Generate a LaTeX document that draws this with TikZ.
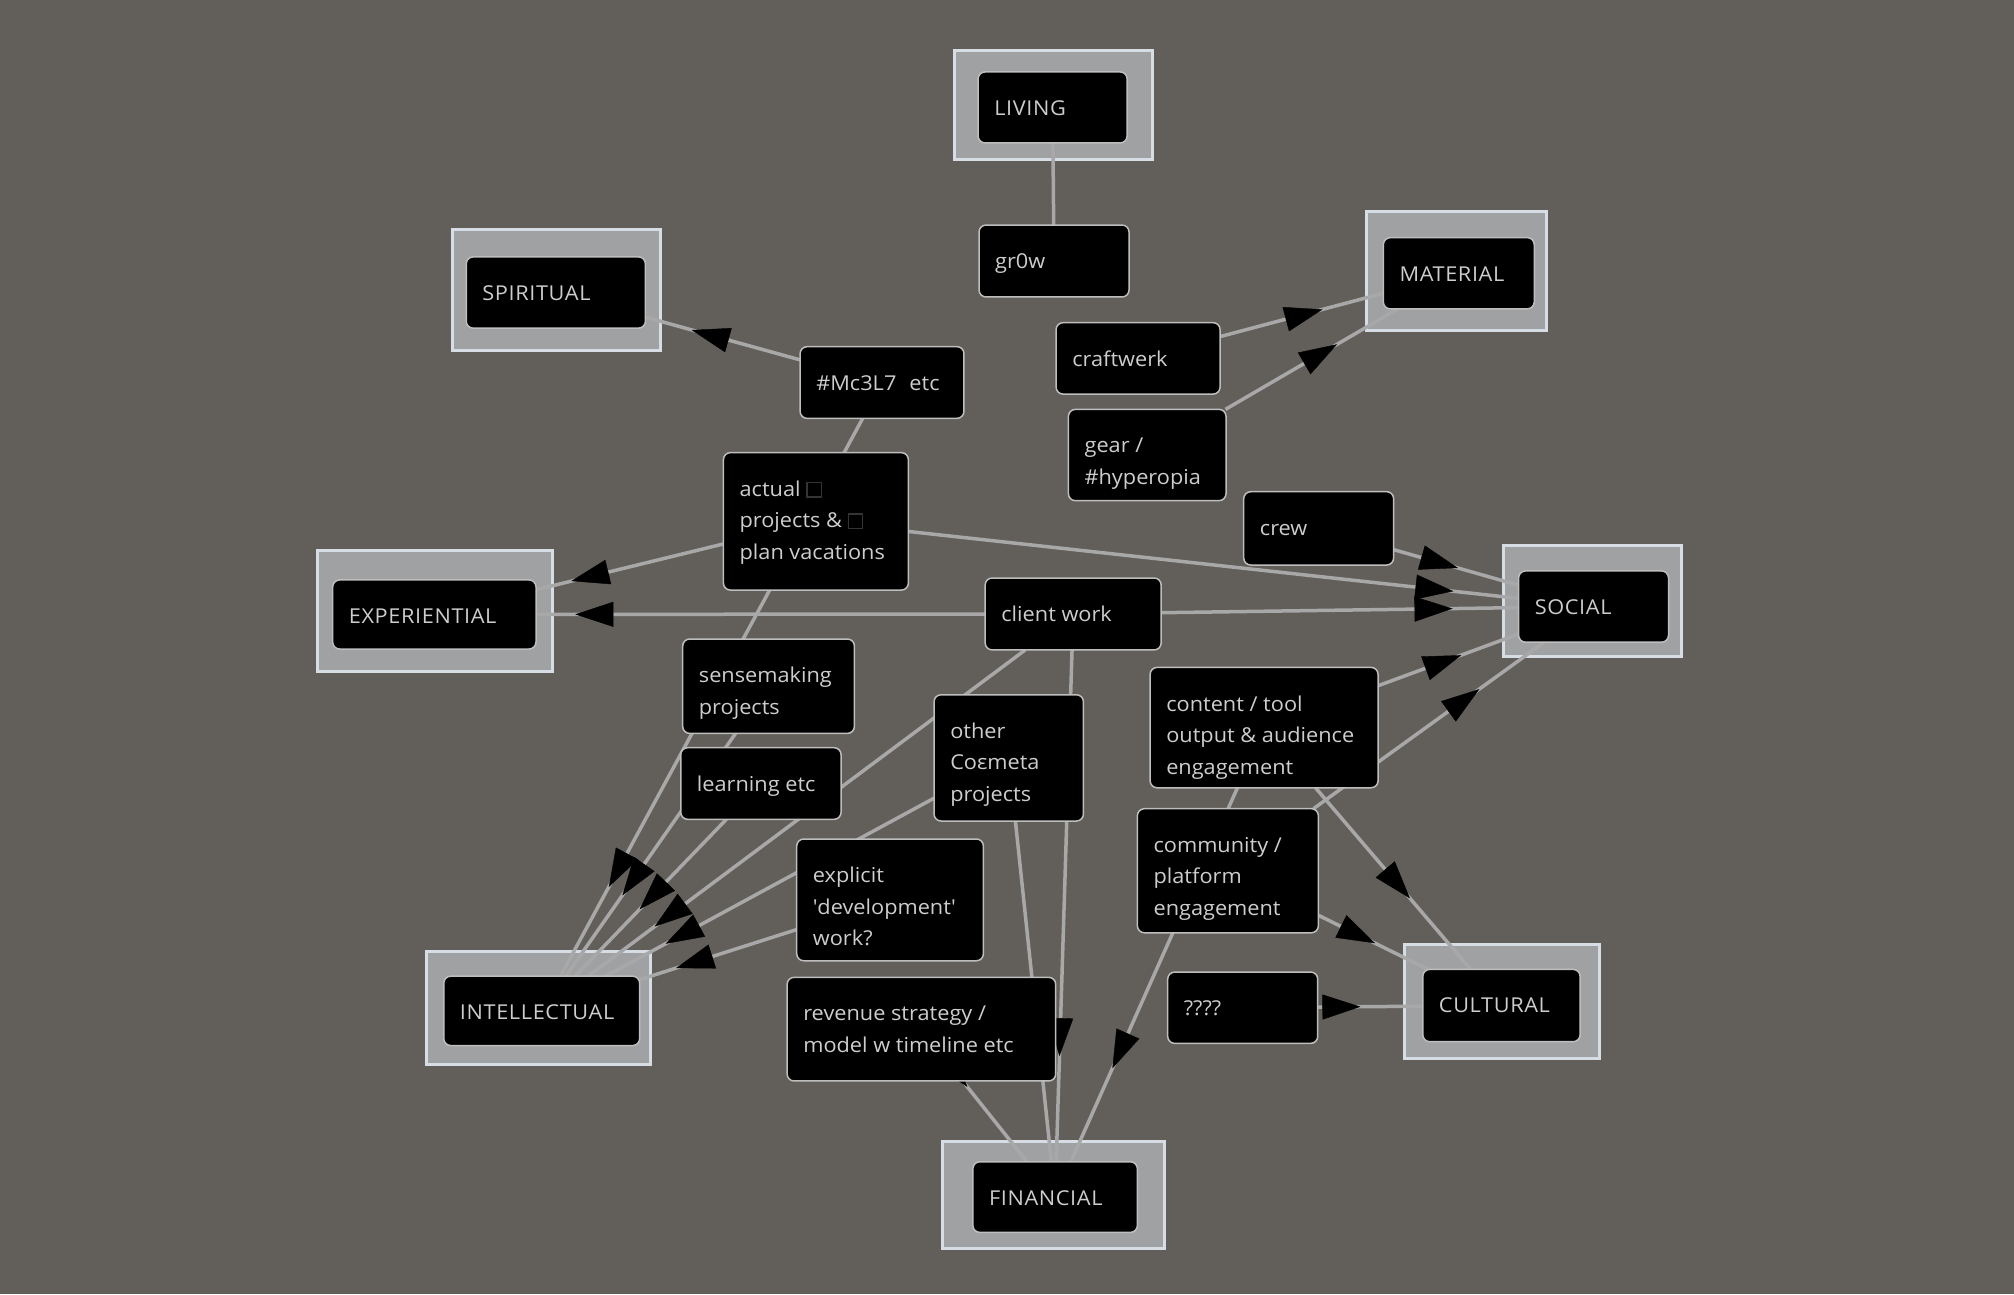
\documentclass[tikz,border=0pt]{standalone}
\usepackage{fontspec}
\setmainfont{Open Sans}[FakeStretch=1.06]
\newfontfamily\capfont{Open Sans}[FakeStretch=1.06, LetterSpace=3]
\usetikzlibrary{fit,calc,arrows.meta}
\definecolor{bgc}{RGB}{98,95,90}
\definecolor{catfill}{RGB}{160,161,163}
\definecolor{catborder}{RGB}{214,221,229}
\definecolor{boxborder}{RGB}{190,190,190}
\definecolor{edgec}{RGB}{168,168,168}
\definecolor{txtc}{RGB}{205,205,205}
\definecolor{sqcol}{RGB}{52,52,52}
\pgfdeclarelayer{back}
\pgfdeclarelayer{outer}
\pgfdeclarelayer{edges}
\pgfsetlayers{back,outer,edges,main}
\tikzset{
  catout/.style={draw=catborder, line width=3pt, fill=catfill, inner sep=0pt, outer sep=0pt},
  bx/.style={draw=boxborder, line width=1.5pt, fill=black, rounded corners=7pt, inner sep=0pt, outer sep=0pt},
  lbl/.style={anchor=north west, inner sep=0pt, align=left, text=txtc, font=\fontsize{20.5}{31.5}\selectfont},
  edge/.style={draw=edgec, line width=3.5pt},
  tipst/.style={draw=black, fill=black, line width=0.4pt, -{Triangle[length=38pt,width=25pt]}},
}
\newcommand\tofubox{{\setlength\fboxsep{0pt}\setlength\fboxrule{1.3pt}\fcolorbox{sqcol}{black}{\rule{0pt}{13pt}\hspace{13pt}}}}
\newcommand\mkbox[4]{%
  \node[bx, fit={(#2) (#3)}] (#1) {};
  \node[lbl] (#1t) at ([xshift=16pt, yshift=-25.4pt]#1.north west) {\rule{0pt}{18pt}#4};}
\newcommand\mkcat[6]{%
  \begin{pgfonlayer}{outer}\node[catout, fit={(#2) (#3)}] (#1o) {};\end{pgfonlayer}
  \node[bx, fit={(#4) (#5)}] (#1) {};
  \node[lbl] (#1t) at ([xshift=16pt, yshift=-25.4pt]#1.north west) {\rule{0pt}{18pt}\capfont #6};}
\newcommand\lnk[2]{\draw[edge] (#1) -- (#2);}
\newcommand\tipat[2]{\draw[tipst] ($(#2)!152pt!(#1)$) -- ($(#2)!141pt!(#1)$);}
\begin{document}
\begin{tikzpicture}[x=1.2844pt, y=-1.2844pt]
\begin{pgfonlayer}{back}
  \fill[bgc] (0,0) rectangle (1568,1007.5);
\end{pgfonlayer}
\useasboundingbox (0,0) rectangle (1568,1007.5);

% category nodes
\mkcat{living}{743,39}{897,124}{761.5,56}{877.5,111.3}{LIVING}
\mkcat{spiritual}{352,179}{514.4,273}{363,200}{502.5,255.5}{SPIRITUAL}
\mkcat{material}{1064,165}{1204,257}{1077,185}{1194.5,240.5}{MATERIAL}
\mkcat{experiential}{247.5,428.5}{430.5,523}{259,451.5}{417.3,505.3}{EXPERIENTIAL}
\mkcat{social}{1170.3,424.5}{1309.5,511}{1182.3,444.5}{1299,500}{SOCIAL}
\mkcat{intellectual}{332,740.5}{506.5,828.5}{345.5,760}{498,814}{INTELLECTUAL}
\mkcat{cultural}{1093.5,735.3}{1245.5,824}{1107.7,754.7}{1230.2,811}{CULTURAL}
\mkcat{financial}{734,889}{906.5,972}{757.4,904.5}{885.5,959.5}{FINANCIAL}

% other nodes
\mkbox{grow}{762.2,175.2}{879,231.2}{gr0w}
\mkbox{mc}{622.9,269.9}{750.5,325.7}{\#Mc3L7\hspace{13pt}etc}
\mkbox{craft}{822.2,251.2}{949.9,306.8}{craftwerk}
\mkbox{gear}{831.8,318.7}{954.5,389.8}{gear /\\\#hyperopia}
\mkbox{actual}{563.2,352.4}{707.2,459.4}{actual \tofubox\\projects \& \tofubox\\plan vacations}
\mkbox{crew}{968.3,382.8}{1085,439.9}{crew}
\mkbox{client}{767,450}{904,506}{client work}
\mkbox{sense}{531.5,497.5}{665.2,571}{sensemaking\\projects}
\mkbox{learn}{530,582.1}{654.8,637.9}{learning etc}
\mkbox{other}{727.2,540.9}{843.5,639.2}{other\\Coεmeta\\projects}
\mkbox{content}{895.4,519.6}{1072.9,613.3}{content / tool\\output \& audience\\engagement}
\mkbox{comm}{885.5,629.6}{1026.4,726.2}{community /\\platform\\engagement}
\mkbox{explicit}{620.3,653.2}{765.6,748}{explicit\\\textquotesingle development\textquotesingle\\work?}
\mkbox{revenue}{612.8,760.9}{821.9,841.6}{revenue strategy /\\model w timeline etc}
\mkbox{qqqq}{909.1,756.8}{1025.9,812.3}{????}

\begin{pgfonlayer}{edges}
  % connectors
  \lnk{grow}{living}
  \lnk{mc}{spiritual}
  \lnk{mc}{intellectual}
  \lnk{craft}{material}
  \lnk{gear}{material}
  \lnk{actual}{experiential}
  \lnk{actual}{social}
  \lnk{crew}{social}
  \lnk{client}{experiential}
  \lnk{client}{social}
  \lnk{client}{intellectual}
  \lnk{client}{financial}
  \lnk{sense}{intellectual}
  \lnk{learn}{intellectual}
  \lnk{other}{intellectual}
  \lnk{other}{financial}
  \lnk{content}{social}
  \lnk{content}{cultural}
  \lnk{content}{financial}
  \lnk{comm}{social}
  \lnk{comm}{cultural}
  \lnk{explicit}{intellectual}
  \lnk{revenue}{financial}
  \lnk{qqqq}{cultural}
  % arrowheads
  \tipat{grow}{living}
  \tipat{mc}{spiritual}
  \tipat{mc}{intellectual}
  \tipat{craft}{material}
  \tipat{gear}{material}
  \tipat{actual}{experiential}
  \tipat{actual}{social}
  \tipat{crew}{social}
  \tipat{client}{experiential}
  \tipat{client}{social}
  \tipat{client}{intellectual}
  \tipat{client}{financial}
  \tipat{sense}{intellectual}
  \tipat{learn}{intellectual}
  \tipat{other}{intellectual}
  \tipat{other}{financial}
  \tipat{content}{social}
  \tipat{content}{cultural}
  \tipat{content}{financial}
  \tipat{comm}{social}
  \tipat{comm}{cultural}
  \tipat{explicit}{intellectual}
  \tipat{revenue}{financial}
  \tipat{qqqq}{cultural}
\end{pgfonlayer}
\end{tikzpicture}
\end{document}
